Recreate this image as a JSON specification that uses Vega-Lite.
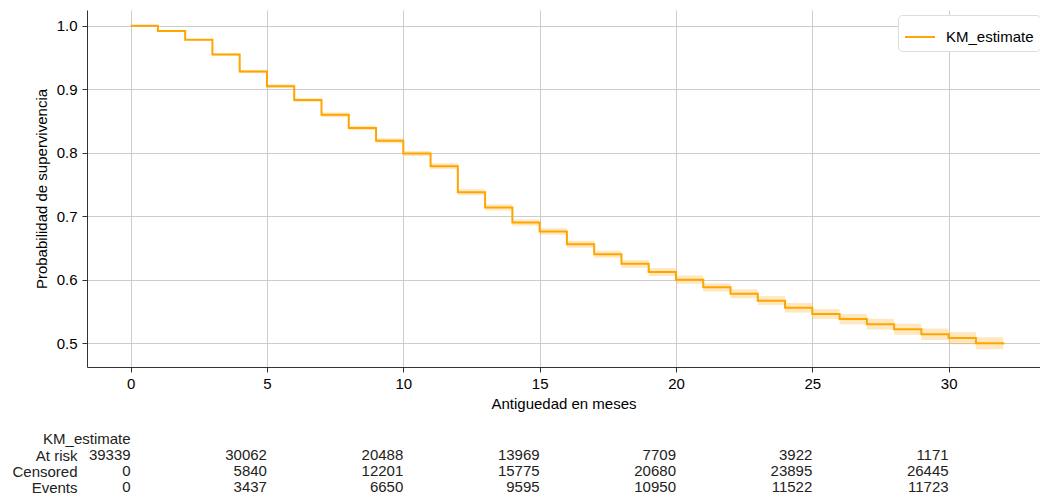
{
  "$schema": "https://vega.github.io/schema/vega-lite/v6.json",
  "background": "white",
  "padding": {"left": 11, "top": 10, "right": 0, "bottom": 0},
  "spacing": 20,
  "config": {
    "view": {"stroke": null},
    "font": "Liberation Sans",
    "axis": {"labelFont": "Liberation Sans", "titleFont": "Liberation Sans", "labelFontSize": 15, "titleFontSize": 15, "labelColor": "#000000", "titleColor": "#000000", "titleFontWeight": "normal"}
  },
  "datasets": {
    "km": [
      {"t": 0, "s": 1.0, "lo": 1.0, "hi": 1.0},
      {"t": 1, "s": 0.992, "lo": 0.991, "hi": 0.993},
      {"t": 2, "s": 0.978, "lo": 0.9765, "hi": 0.9795},
      {"t": 3, "s": 0.955, "lo": 0.953, "hi": 0.957},
      {"t": 4, "s": 0.928, "lo": 0.9255, "hi": 0.9305},
      {"t": 5, "s": 0.905, "lo": 0.902, "hi": 0.908},
      {"t": 6, "s": 0.883, "lo": 0.880, "hi": 0.886},
      {"t": 7, "s": 0.860, "lo": 0.8565, "hi": 0.8635},
      {"t": 8, "s": 0.839, "lo": 0.8355, "hi": 0.8425},
      {"t": 9, "s": 0.819, "lo": 0.815, "hi": 0.823},
      {"t": 10, "s": 0.799, "lo": 0.795, "hi": 0.803},
      {"t": 11, "s": 0.779, "lo": 0.7745, "hi": 0.7835},
      {"t": 12, "s": 0.738, "lo": 0.7335, "hi": 0.7425},
      {"t": 13, "s": 0.714, "lo": 0.709, "hi": 0.719},
      {"t": 14, "s": 0.690, "lo": 0.685, "hi": 0.695},
      {"t": 15, "s": 0.676, "lo": 0.671, "hi": 0.681},
      {"t": 16, "s": 0.656, "lo": 0.6505, "hi": 0.6615},
      {"t": 17, "s": 0.640, "lo": 0.6345, "hi": 0.6455},
      {"t": 18, "s": 0.625, "lo": 0.619, "hi": 0.631},
      {"t": 19, "s": 0.612, "lo": 0.606, "hi": 0.618},
      {"t": 20, "s": 0.600, "lo": 0.5935, "hi": 0.6065},
      {"t": 21, "s": 0.588, "lo": 0.5815, "hi": 0.5945},
      {"t": 22, "s": 0.578, "lo": 0.571, "hi": 0.585},
      {"t": 23, "s": 0.567, "lo": 0.560, "hi": 0.574},
      {"t": 24, "s": 0.556, "lo": 0.5485, "hi": 0.5635},
      {"t": 25, "s": 0.546, "lo": 0.538, "hi": 0.554},
      {"t": 26, "s": 0.538, "lo": 0.530, "hi": 0.546},
      {"t": 27, "s": 0.530, "lo": 0.5215, "hi": 0.5385},
      {"t": 28, "s": 0.522, "lo": 0.5135, "hi": 0.5305},
      {"t": 29, "s": 0.514, "lo": 0.505, "hi": 0.523},
      {"t": 30, "s": 0.508, "lo": 0.4985, "hi": 0.5175},
      {"t": 31, "s": 0.500, "lo": 0.4905, "hi": 0.5095},
      {"t": 32, "s": 0.498, "lo": 0.4885, "hi": 0.5075}
    ],
    "table": [
      {"t": 0, "row": "h", "val": "KM_estimate"},
      {"t": 0, "row": "At risk", "val": "39339"},
      {"t": 5, "row": "At risk", "val": "30062"},
      {"t": 10, "row": "At risk", "val": "20488"},
      {"t": 15, "row": "At risk", "val": "13969"},
      {"t": 20, "row": "At risk", "val": "7709"},
      {"t": 25, "row": "At risk", "val": "3922"},
      {"t": 30, "row": "At risk", "val": "1171"},
      {"t": 0, "row": "Censored", "val": "0"},
      {"t": 5, "row": "Censored", "val": "5840"},
      {"t": 10, "row": "Censored", "val": "12201"},
      {"t": 15, "row": "Censored", "val": "15775"},
      {"t": 20, "row": "Censored", "val": "20680"},
      {"t": 25, "row": "Censored", "val": "23895"},
      {"t": 30, "row": "Censored", "val": "26445"},
      {"t": 0, "row": "Events", "val": "0"},
      {"t": 5, "row": "Events", "val": "3437"},
      {"t": 10, "row": "Events", "val": "6650"},
      {"t": 15, "row": "Events", "val": "9595"},
      {"t": 20, "row": "Events", "val": "10950"},
      {"t": 25, "row": "Events", "val": "11522"},
      {"t": 30, "row": "Events", "val": "11723"}
    ]
  },
  "vconcat": [
    {
      "width": 953,
      "height": 357,
      "data": {"name": "km"},
      "layer": [
        {
          "mark": {"type": "area", "interpolate": "step-after", "color": "#FFA500", "opacity": 0.25},
          "encoding": {
            "x": {"field": "t", "type": "quantitative"},
            "y": {"field": "lo", "type": "quantitative"},
            "y2": {"field": "hi"}
          }
        },
        {
          "mark": {"type": "line", "interpolate": "step-after", "strokeWidth": 2},
          "encoding": {
            "x": {
              "field": "t", "type": "quantitative",
              "scale": {"domain": [-1.6, 33.35], "nice": false, "zero": false},
              "axis": {"title": "Antiguedad en meses", "values": [0, 5, 10, 15, 20, 25, 30], "grid": true, "gridColor": "#cccccc", "domainColor": "#333333", "tickColor": "#333333", "tickSize": 5, "labelPadding": 4, "titlePadding": 5}
            },
            "y": {
              "field": "s", "type": "quantitative",
              "scale": {"domain": [0.4625, 1.025], "nice": false, "zero": false},
              "axis": {"title": "Probabilidad de supervivencia", "values": [0.5, 0.6, 0.7, 0.8, 0.9, 1.0], "format": ".1f", "grid": true, "gridColor": "#cccccc", "domainColor": "#333333", "tickColor": "#333333", "tickSize": 5, "labelPadding": 5, "titlePadding": 7}
            },
            "color": {
              "datum": "KM_estimate", "type": "nominal",
              "scale": {"range": ["#FFA500"]},
              "legend": {"title": null, "orient": "none", "legendX": 811, "legendY": 5, "symbolType": "stroke", "symbolStrokeWidth": 2, "symbolSize": 900, "labelOffset": 10, "labelFontSize": 15, "labelFont": "Liberation Sans", "labelColor": "#000000", "strokeColor": "#dddddd", "fillColor": "white", "cornerRadius": 4, "padding": 6}
            }
          }
        }
      ]
    },
    {
      "width": 953,
      "height": 64,
      "data": {"name": "table"},
      "mark": {"type": "text", "align": "right", "baseline": "middle", "font": "Liberation Sans", "fontSize": 15, "color": "#222222"},
      "encoding": {
        "x": {"field": "t", "type": "quantitative", "scale": {"domain": [-1.6, 33.35], "nice": false, "zero": false}, "axis": null},
        "y": {
          "field": "row", "type": "nominal", "sort": ["h", "At risk", "Censored", "Events"],
          "axis": {"title": null, "ticks": false, "domain": false, "labelPadding": 10, "labelFontSize": 15, "labelColor": "#222222", "labelExpr": "datum.value == 'h' ? '' : datum.value"}
        },
        "text": {"field": "val"}
      }
    }
  ]
}
